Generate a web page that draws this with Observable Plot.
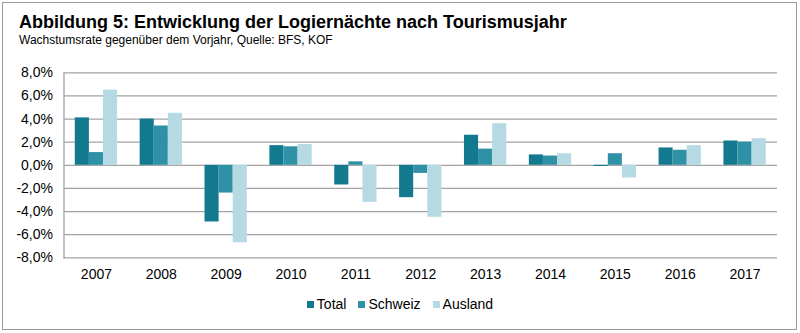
<!DOCTYPE html>
<html>
<head>
<meta charset="utf-8">
<script src="https://cdn.jsdelivr.net/npm/d3@7"></script>
<script src="https://cdn.jsdelivr.net/npm/@observablehq/plot@0.6"></script>
<style>
  html, body { margin: 0; padding: 0; background: #fff; }
  body { width: 800px; height: 333px; position: relative; overflow: hidden; font-family: "Liberation Sans", Arial, sans-serif; }
  #frame { position: absolute; left: 2px; top: 2px; width: 793px; height: 326px; border: 1.5px solid #9a9a9a; }
  #title { position: absolute; left: 19px; top: 12px; font-size: 18px; font-weight: bold; color: #000; white-space: nowrap; }
  #subtitle { position: absolute; left: 19px; top: 33px; font-size: 12px; color: #000; white-space: nowrap; }
  #chart { position: absolute; left: 0; top: 60px; }
  #legend { position: absolute; left: 0; top: 296px; width: 800px; display: flex; justify-content: center; font-size: 14px; color: #000; }
  .item { display: flex; align-items: center; margin: 0 6px; }
  .sw { width: 7px; height: 7px; margin-right: 3px; }
</style>
</head>
<body>
<div id="frame"></div>
<div id="title">Abbildung 5: Entwicklung der Logiernächte nach Tourismusjahr</div>
<div id="subtitle">Wachstumsrate gegenüber dem Vorjahr, Quelle: BFS, KOF</div>
<div id="chart"></div>
<div id="legend"></div>
<script>
const years = ["2007","2008","2009","2010","2011","2012","2013","2014","2015","2016","2017"];
const seriesNames = ["Total", "Schweiz", "Ausland"];
const total   = [4.1, 4.0, -4.9, 1.7, -1.7, -2.8, 2.6, 0.9, -0.1, 1.5, 2.1];
const schweiz = [1.1, 3.4, -2.4, 1.6, 0.3, -0.7, 1.4, 0.8, 1.0, 1.3, 2.0];
const ausland = [6.5, 4.5, -6.7, 1.8, -3.2, -4.5, 3.6, 1.0, -1.1, 1.7, 2.3];
const yTicks = [-8, -6, -4, -2, 0, 2, 4, 6, 8];
const colors = ["#12798f", "#2e91a6", "#b6dae4"];

const valuesBySeries = [total, schweiz, ausland];
const rows = valuesBySeries.map((vals, s) => years.map((y, i) => ({year: y, series: seriesNames[s], value: vals[i]})));

const fmt = d => d.toFixed(1).replace(".", ",") + "%";
const barW = 14.1;

const plot = Plot.plot({
  width: 800,
  height: 230,
  marginLeft: 63.5,
  marginRight: 23,
  marginTop: 12.3,
  marginBottom: 32.7,
  style: {fontFamily: "Liberation Sans, Arial, sans-serif", fontSize: "14px", color: "#000"},
  x: {domain: years, paddingInner: 0.783, paddingOuter: 0.3915, round: false, label: null},
  y: {domain: [-8, 8], label: null},
  marks: [
    Plot.ruleY(yTicks, {stroke: "#a3a3a3", strokeWidth: 1.3}),
    ...rows.map((r, s) => Plot.barY(r, {x: "year", y: "value", fill: colors[s], dx: (s - 1) * barW})),
    Plot.frame({anchor: "left", stroke: "#a3a3a3", strokeWidth: 1.3}),
    Plot.axisY(yTicks, {tickSize: 0, tickPadding: 11, tickFormat: fmt, label: null, fontSize: 14}),
    Plot.axisX({tickSize: 0, tickPadding: 11, label: null, fontSize: 14})
  ]
});
document.getElementById("chart").appendChild(plot);

const legend = document.getElementById("legend");
seriesNames.forEach((n, i) => {
  const it = document.createElement("div");
  it.className = "item";
  const sw = document.createElement("div");
  sw.className = "sw";
  sw.style.background = colors[i];
  it.appendChild(sw);
  const t = document.createElement("span");
  t.textContent = n;
  it.appendChild(t);
  legend.appendChild(it);
});
</script>
</body>
</html>
